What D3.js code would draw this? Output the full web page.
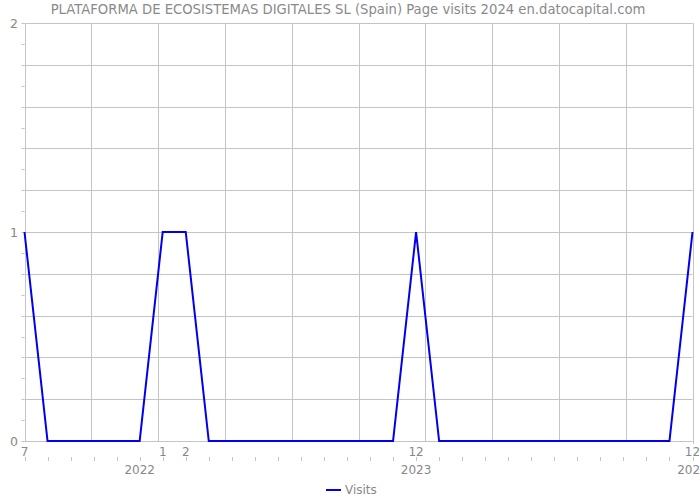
<!DOCTYPE html>
<html><head><meta charset="utf-8">
<script src="https://cdn.jsdelivr.net/npm/d3@7"></script>
<style>body{margin:0;background:#fff}svg{display:block;font-family:"DejaVu Sans",sans-serif}</style>
</head><body>
<svg id="c" width="700" height="500"></svg>
<script>
const title = "PLATAFORMA DE ECOSISTEMAS DIGITALES SL (Spain) Page visits 2024 en.datocapital.com";
const months = ["7","8","9","10","11","12","1","2","3","4","5","6","7","8","9","10","11","12","1","2","3","4","5","6","7","8","9","10","11","12"];
const visits = [1,0,0,0,0,0,1,1,0,0,0,0,0,0,0,0,0,1,0,0,0,0,0,0,0,0,0,0,0,1];
const monthLabelIdx = [0,6,7,17,29];
const yearLabels = [{i:5,t:"2022"},{i:17,t:"2023"},{i:29,t:"2024"}];
const yTicks = [0,1,2];

const svg = d3.select("#c");
const x = d3.scaleLinear().domain([0, months.length-1]).range([24.5, 692.5]);
const y = d3.scaleLinear().domain([0,2]).range([441, 23]);
const grid = "#c4c4c4", txt = "#888";

const g = svg.append("g");
g.selectAll(".hg").data(d3.range(0,2.0001,0.2)).join("line")
  .attr("x1", x.range()[0]).attr("x2", x.range()[1])
  .attr("y1", d=>Math.round(y(d))+0.5).attr("y2", d=>Math.round(y(d))+0.5)
  .attr("stroke", grid).attr("stroke-width",1);
const vx = d3.scaleLinear().domain([0,10]).range(x.range());
g.selectAll(".vg").data(d3.range(0,11)).join("line")
  .attr("x1", d=>Math.round(vx(d))+0.5).attr("x2", d=>Math.round(vx(d))+0.5)
  .attr("y1", y(2)).attr("y2", y(0))
  .attr("stroke", grid).attr("stroke-width",1);

g.selectAll(".ym").data(d3.range(0,2.0001,0.1)).join("line")
  .attr("x1", x.range()[0]-3).attr("x2", x.range()[0])
  .attr("y1", d=>Math.round(y(d))+0.5).attr("y2", d=>Math.round(y(d))+0.5)
  .attr("stroke", grid);
svg.selectAll(".yl").data(yTicks).join("text")
  .attr("x", 18).attr("y", d=>y(d)+4.5).attr("text-anchor","end")
  .attr("font-size",12.5).attr("fill",txt).text(d=>d);

g.selectAll(".xm").data(d3.range(months.length)).join("line")
  .attr("x1", d=>Math.round(x(d))+0.5).attr("x2", d=>Math.round(x(d))+0.5)
  .attr("y1", 457).attr("y2", 461).attr("stroke", grid);
g.append("line").attr("x1", Math.round(x(29))+0.5).attr("x2", Math.round(x(29))+0.5)
  .attr("y1", 441).attr("y2", 444).attr("stroke", grid);

svg.selectAll(".ml").data(monthLabelIdx).join("text")
  .attr("x", d=>x(d)).attr("y", 456).attr("text-anchor","middle")
  .attr("font-size",12).attr("fill",txt).text(d=>months[d]);
svg.selectAll(".yrl").data(yearLabels).join("text")
  .attr("x", d=>x(d.i)).attr("y", 474).attr("text-anchor","middle")
  .attr("font-size",12).attr("fill",txt).text(d=>d.t);

svg.append("path").datum(visits)
  .attr("d", d3.line().x((d,i)=>x(i)).y(d=>y(d)))
  .attr("fill","none").attr("stroke","#0000ee").attr("stroke-width",2);

svg.append("text").attr("x",348).attr("y",14).attr("text-anchor","middle")
  .attr("font-size",13.2).attr("fill","#8a8a8a").text(title);

svg.append("line").attr("x1",326).attr("x2",341).attr("y1",490).attr("y2",490)
  .attr("stroke","#0000ee").attr("stroke-width",2);
svg.append("text").attr("x",345).attr("y",494).attr("font-size",12).attr("fill",txt).text("Visits");
</script>
</body></html>
